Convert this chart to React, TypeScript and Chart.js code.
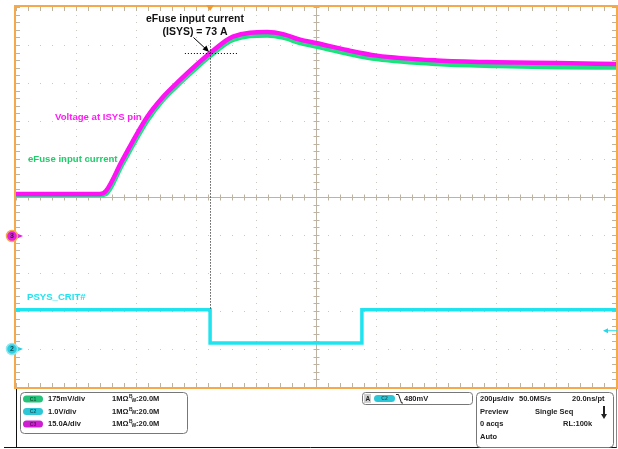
import React, { useEffect, useRef } from "react";
import { Chart, registerables } from "chart.js";
Chart.register(...registerables);

// Time axis: 200 µs/div, 10 divisions
const timeUs = [0, 280, 300, 353, 437, 487, 547, 597, 647, 723, 837, 890, 947, 1000, 1103, 1203, 1403, 1603, 1803, 2000];
// C3: eFuse input current (15 A/div)
const currentA = [17.4, 17.4, 18.6, 30.4, 47.8, 55.3, 62.4, 67.9, 73.0, 79.5, 81.3, 80.5, 78.3, 77.0, 74.2, 72.0, 70.1, 69.4, 69.1, 68.7];
// C1: voltage at ISYS pin (175 mV/div)
const voltageV = [0.198, 0.198, 0.203, 0.336, 0.539, 0.631, 0.714, 0.778, 0.838, 0.912, 0.933, 0.923, 0.898, 0.882, 0.85, 0.824, 0.801, 0.792, 0.787, 0.785];
// C2: PSYS_CRIT# (1 V/div)
const critTimeUs = [0, 647, 647, 1153, 1153, 2000];
const critV = [1.03, 1.03, 0.16, 0.16, 1.03, 1.03];

const triggerUs = 647;
const triggerLevelV = 0.48;
const annotationA = 73;

const FONT = '"Liberation Sans", Arial, sans-serif';

function pill(ctx: CanvasRenderingContext2D, x: number, y: number, w: number, h: number, fill: string, label: string) {
  ctx.save();
  ctx.fillStyle = fill;
  ctx.beginPath();
  ctx.roundRect(x, y - h / 2, w, h, h / 2);
  ctx.fill();
  ctx.fillStyle = "rgba(0,0,0,0.55)";
  ctx.font = `bold 5px ${FONT}`;
  ctx.textAlign = "center";
  ctx.textBaseline = "middle";
  ctx.fillText(label, x + w / 2, y + 0.5);
  ctx.restore();
}

const scopePlugin = {
  id: "scope",
  beforeDatasetsDraw(chart: any) {
    const ctx: CanvasRenderingContext2D = chart.ctx;
    const xs = chart.scales.x;
    const yd = chart.scales.yDiv;
    const { left, right, top, bottom } = chart.chartArea;
    ctx.save();
    ctx.fillStyle = "#cdc8bf";
    for (let i = 1; i < 10; i++) {
      if (i === 5) continue;
      const x = Math.round(xs.getPixelForValue(i * 200));
      for (let k = 0; k <= 50; k++) {
        const y = Math.round(yd.getPixelForValue(-5 + k * 0.2));
        ctx.fillRect(x, y, 1, 1);
      }
    }
    for (let j = -4; j <= 4; j++) {
      if (j === 0) continue;
      const y = Math.round(yd.getPixelForValue(j));
      for (let k = 0; k <= 50; k++) {
        const x = Math.round(xs.getPixelForValue(k * 40));
        ctx.fillRect(x, y, 1, 1);
      }
    }
    ctx.strokeStyle = "#bcb3a3";
    ctx.lineWidth = 1;
    const cx = Math.round(xs.getPixelForValue(1000)) + 0.5;
    const cy = Math.round(yd.getPixelForValue(0)) + 0.5;
    ctx.beginPath();
    ctx.moveTo(left, cy);
    ctx.lineTo(right, cy);
    ctx.moveTo(cx, top);
    ctx.lineTo(cx, bottom);
    for (let k = 0; k <= 50; k++) {
      const x = Math.round(xs.getPixelForValue(k * 40)) + 0.5;
      ctx.moveTo(x, cy - 3);
      ctx.lineTo(x, cy + 3);
      ctx.moveTo(x, top);
      ctx.lineTo(x, top + 4);
      ctx.moveTo(x, bottom);
      ctx.lineTo(x, bottom - 4);
      const y = Math.round(yd.getPixelForValue(-5 + k * 0.2)) + 0.5;
      ctx.moveTo(cx - 3, y);
      ctx.lineTo(cx + 3, y);
      ctx.moveTo(left, y);
      ctx.lineTo(left + 4, y);
      ctx.moveTo(right, y);
      ctx.lineTo(right - 4, y);
    }
    ctx.stroke();
    ctx.restore();
  },
  afterDatasetsDraw(chart: any) {
    const ctx: CanvasRenderingContext2D = chart.ctx;
    const xs = chart.scales.x;
    const y2 = chart.scales.y2;
    const y3 = chart.scales.y3;
    const { left, right, top, bottom } = chart.chartArea;
    ctx.save();
    ctx.strokeStyle = "#f5a94a";
    ctx.lineWidth = 2;
    ctx.strokeRect(left - 1, top - 1, right - left + 2, bottom - top + 2);

    const tx = xs.getPixelForValue(triggerUs);
    ctx.fillStyle = "#f39a2c";
    ctx.beginPath();
    ctx.moveTo(tx - 4, top - 2);
    ctx.lineTo(tx + 4, top - 2);
    ctx.lineTo(tx, top + 4);
    ctx.closePath();
    ctx.fill();

    ctx.strokeStyle = "#000";
    ctx.lineWidth = 1;
    ctx.setLineDash([1, 2]);
    const ax = Math.round(tx) + 0.5;
    const ay = Math.round(y3.getPixelForValue(annotationA)) + 0.5;
    ctx.beginPath();
    ctx.moveTo(ax, y3.getPixelForValue(78));
    ctx.lineTo(ax, y2.getPixelForValue(critV[0]));
    ctx.moveTo(xs.getPixelForValue(563), ay);
    ctx.lineTo(xs.getPixelForValue(737), ay);
    ctx.stroke();
    ctx.setLineDash([]);
    ctx.beginPath();
    ctx.moveTo(ax - 17, ay - 16);
    ctx.lineTo(ax - 3, ay - 3);
    ctx.stroke();
    ctx.beginPath();
    ctx.moveTo(ax - 1.5, ay - 1.5);
    ctx.lineTo(ax - 8, ay - 4);
    ctx.lineTo(ax - 4, ay - 8);
    ctx.closePath();
    ctx.fillStyle = "#000";
    ctx.fill();

    ctx.textBaseline = "middle";
    ctx.textAlign = "center";
    ctx.fillStyle = "#111";
    ctx.font = `bold 10.5px ${FONT}`;
    ctx.fillText("eFuse input current", 195, 19);
    ctx.fillText("(ISYS) = 73 A", 195, 32);

    ctx.textAlign = "left";
    ctx.font = `bold 9.6px ${FONT}`;
    ctx.fillStyle = "#ff1cf5";
    ctx.fillText("Voltage at ISYS pin", 55, 117);
    ctx.fillStyle = "#22cc6c";
    ctx.fillText("eFuse input current", 28, 159);
    ctx.fillStyle = "#22e3f0";
    ctx.fillText("PSYS_CRIT#", 27, 297);

    const m3 = y3.getPixelForValue(0) - 2;
    const m2 = y2.getPixelForValue(0);
    const marker = (y: number, fill: string, ring: string, arrow: string, label: string, txt: string) => {
      ctx.beginPath();
      ctx.moveTo(16, y - 3);
      ctx.lineTo(23, y);
      ctx.lineTo(16, y + 3);
      ctx.closePath();
      ctx.fillStyle = arrow;
      ctx.fill();
      ctx.beginPath();
      ctx.arc(12, y, 5.5, 0, Math.PI * 2);
      ctx.fillStyle = fill;
      ctx.fill();
      ctx.strokeStyle = ring;
      ctx.lineWidth = 1.5;
      ctx.stroke();
      ctx.fillStyle = txt;
      ctx.font = `bold 7px ${FONT}`;
      ctx.textAlign = "center";
      ctx.fillText(label, 12, y + 0.5);
    };
    marker(m3, "#e61be6", "#f5a94a", "#e61be6", "3", "#222");
    marker(m2, "#2ccfe0", "#8fe8f0", "#2ccfe0", "2", "#0a4d55");

    const tl = y2.getPixelForValue(triggerLevelV);
    ctx.strokeStyle = "#22d8ea";
    ctx.lineWidth = 1;
    ctx.beginPath();
    ctx.moveTo(606, tl);
    ctx.lineTo(617, tl);
    ctx.stroke();
    ctx.beginPath();
    ctx.moveTo(603, tl);
    ctx.lineTo(608, tl - 2.5);
    ctx.lineTo(608, tl + 2.5);
    ctx.closePath();
    ctx.fillStyle = "#22d8ea";
    ctx.fill();

    ctx.strokeStyle = "#111";
    ctx.lineWidth = 1;
    ctx.beginPath();
    ctx.moveTo(16.5, 389);
    ctx.lineTo(16.5, 447.5);
    ctx.moveTo(4, 447.5);
    ctx.lineTo(617, 447.5);
    ctx.stroke();
    ctx.strokeStyle = "#888";
    ctx.beginPath();
    ctx.moveTo(616.5, 389);
    ctx.lineTo(616.5, 447.5);
    ctx.stroke();

    ctx.strokeStyle = "#777";
    ctx.beginPath();
    ctx.roundRect(20.5, 392.5, 167, 41, 4);
    ctx.stroke();
    ctx.beginPath();
    ctx.roundRect(362.5, 392.5, 110, 12, 3);
    ctx.stroke();
    ctx.beginPath();
    ctx.roundRect(476.5, 392.5, 137, 55, 4);
    ctx.stroke();

    ctx.textAlign = "left";
    ctx.fillStyle = "#222";
    ctx.font = `bold 7.5px ${FONT}`;
    const rows: [string, string, string][] = [
      ["C1", "175mV/div", "#25c27a"],
      ["C2", "1.0V/div", "#2cc6d6"],
      ["C3", "15.0A/div", "#cf1fd3"],
    ];
    const rowY = [399, 411.5, 424];
    rows.forEach((r, i) => {
      pill(ctx, 23, rowY[i], 20, 7, r[2], r[0]);
      ctx.fillStyle = "#222";
      ctx.font = `bold 7.5px ${FONT}`;
      ctx.fillText(r[1], 48, rowY[i]);
      ctx.fillText("1MΩ", 112, rowY[i]);
      ctx.font = `bold 5px ${FONT}`;
      ctx.fillText("B", 129, rowY[i] - 2);
      ctx.fillText("W", 131.5, rowY[i] + 1.5);
      ctx.font = `bold 7.5px ${FONT}`;
      ctx.fillText(":20.0M", 136, rowY[i]);
    });

    ctx.fillStyle = "#cfcfcf";
    ctx.fillRect(364, 394, 7, 9);
    ctx.fillStyle = "#222";
    ctx.font = `bold 6.5px ${FONT}`;
    ctx.fillText("A", 365.5, 398.8);
    pill(ctx, 374, 398.5, 21, 7, "#2cc6d6", "C2");
    ctx.strokeStyle = "#222";
    ctx.lineWidth = 1;
    ctx.beginPath();
    ctx.moveTo(396, 394.5);
    ctx.lineTo(398.5, 394.5);
    ctx.lineTo(401.5, 403);
    ctx.lineTo(403, 403);
    ctx.stroke();
    ctx.font = `bold 7.5px ${FONT}`;
    ctx.fillText("480mV", 404, 398.5);

    ctx.fillText("200µs/div", 480, 399);
    ctx.fillText("50.0MS/s", 519, 399);
    ctx.fillText("20.0ns/pt", 572, 399);
    ctx.fillText("Preview", 480, 411.5);
    ctx.fillText("Single Seq", 535, 411.5);
    ctx.fillText("0 acqs", 480, 424);
    ctx.fillText("RL:100k", 563, 424);
    ctx.fillText("Auto", 480, 437);
    ctx.lineWidth = 2;
    ctx.beginPath();
    ctx.moveTo(604, 406);
    ctx.lineTo(604, 415);
    ctx.stroke();
    ctx.beginPath();
    ctx.moveTo(601, 414);
    ctx.lineTo(607, 414);
    ctx.lineTo(604, 419);
    ctx.closePath();
    ctx.fillStyle = "#222";
    ctx.fill();
    ctx.restore();
  },
};

export default function App() {
  const ref = useRef<HTMLCanvasElement | null>(null);
  useEffect(() => {
    if (!ref.current) return;
    const chart = new Chart(ref.current, {
      type: "line",
      data: {
        datasets: [
          {
            label: "Voltage at ISYS pin (C3)",
            data: timeUs.map((t, i) => ({ x: t, y: currentA[i] })),
            yAxisID: "y3",
            borderColor: "#ff10f5",
            borderWidth: 4.5,
            pointRadius: 0,
            cubicInterpolationMode: "monotone",
            order: 1,
          },
          {
            label: "eFuse input current (C1)",
            data: timeUs.map((t, i) => ({ x: t, y: voltageV[i] })),
            yAxisID: "y1",
            borderColor: "#1fe27f",
            borderWidth: 4.5,
            pointRadius: 0,
            cubicInterpolationMode: "monotone",
            order: 2,
          },
          {
            label: "PSYS_CRIT# (C2)",
            data: critTimeUs.map((t, i) => ({ x: t, y: critV[i] })),
            yAxisID: "y2",
            borderColor: "#1fe4ef",
            borderWidth: 3.5,
            pointRadius: 0,
            tension: 0,
            order: 0,
          },
        ],
      },
      options: {
        responsive: false,
        animation: false,
        devicePixelRatio: 1,
        layout: { padding: { left: 16, top: 7, right: 2, bottom: 62 } },
        plugins: { legend: { display: false }, tooltip: { enabled: false } },
        scales: {
          x: { type: "linear", min: 0, max: 2000, display: false },
          yDiv: { type: "linear", min: -5, max: 5, display: false },
          y1: { type: "linear", min: -0.686, max: 1.064, display: false },
          y2: { type: "linear", min: -1, max: 9, display: false },
          y3: { type: "linear", min: -58.8, max: 91.2, display: false },
        },
      },
      plugins: [scopePlugin],
    });
    return () => chart.destroy();
  }, []);
  return (
    <canvas
      ref={ref}
      width={618}
      height={449}
      style={{ position: "absolute", left: 0, top: 0, width: 618, height: 449 }}
    />
  );
}
